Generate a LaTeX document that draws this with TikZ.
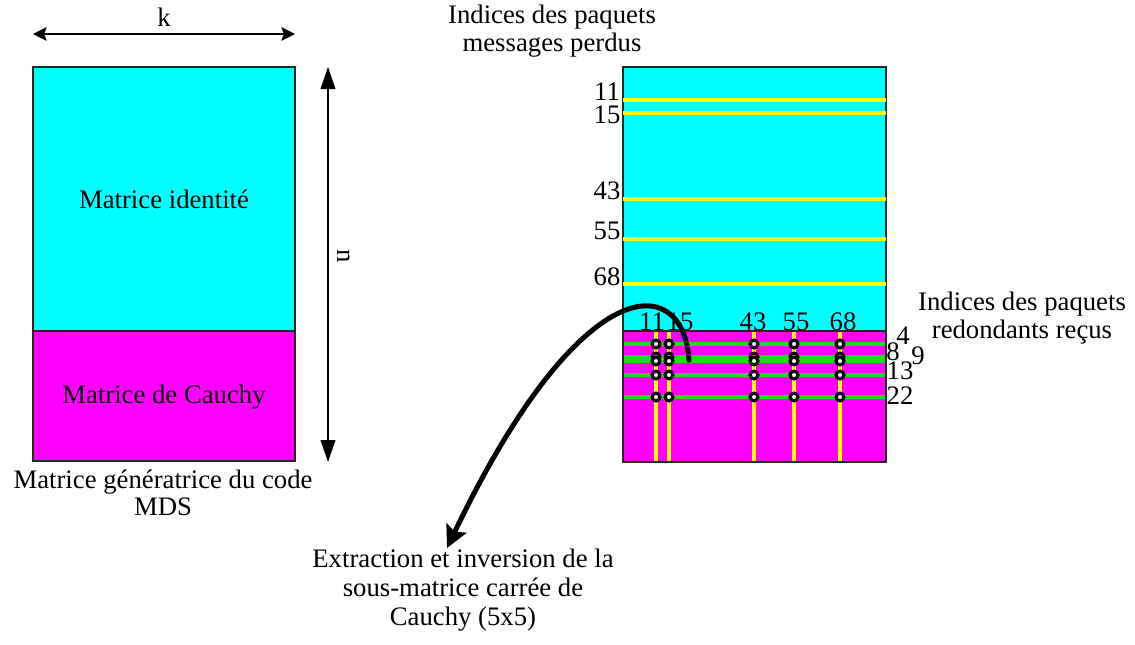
\documentclass[tikz,border=0pt]{standalone}
\usepackage{fontspec}
\setmainfont{Liberation Serif}
\usetikzlibrary{positioning,arrows.meta}
\definecolor{cyanvif}{RGB}{0,255,255}
\definecolor{magvif}{RGB}{255,0,255}
\definecolor{jaune}{RGB}{255,255,0}
\definecolor{vert}{RGB}{30,220,30}

\begin{document}
\begin{tikzpicture}[x=0.025cm,y=-0.025cm,font=\fontsize{19}{19.5}\selectfont,
   texte/.style={align=center,inner sep=0pt},
   num/.style={inner sep=0pt},
   bord/.style={draw=black!85,line width=0.3mm},
   perdu/.style={jaune,line width=0.85mm},
   recu/.style={vert,line width=1.1mm},
   trou/.style={circle,draw,fill=white,line width=0.8mm,minimum size=5.5pt,inner sep=0pt},
   fleche/.style={{Stealth[length=3.4mm,width=3.4mm,inset=0.6mm]}-{Stealth[length=3.4mm,width=3.4mm,inset=0.6mm]},line width=0.3mm},
   flechen/.style={{Triangle[length=5.5mm,width=3.7mm]}-{Triangle[length=5.5mm,width=3.7mm]},line width=0.3mm}]
   \useasboundingbox (0,0) rectangle (1135,644);

   % matrice generatrice
   \draw[bord,fill=cyanvif] (33,67) rectangle (295,331);
   \draw[bord,fill=magvif] (33,331) rectangle (295,461);
   \node (ident)  at (164,199) {Matrice identité};
   \node (cauchy) at (164,397) {Matrice de Cauchy};
   \node[texte] (gen) at (163,493) {Matrice génératrice du code\\MDS};
   \node (k) at (164,17) {k};
   \coordinate (kg) at (33,34);
   \coordinate (kd) at (295,34);
   \draw[fleche] (kg) -- (kd);
   \node[rotate=-90] (n) at (344,256) {n};
   \coordinate (nh) at (328,67);
   \coordinate (nb) at (328,462);
   \draw[flechen] (nh) -- (nb);

   % paquets perdus / recus
   \draw[bord,fill=cyanvif] (623,67) rectangle (886,331);
   \draw[bord,fill=magvif] (623,331) rectangle (886,462);
   \foreach \y in {100,113,199,239,284}
      \draw[perdu] (623,\y) -- (886,\y);
   \foreach \n/\y in {11/92,15/115,43/191,55/231,68/277}
      \node[num] at (607,\y) {\n};
   \foreach \y in {344,357,361,375,397}
      \draw[recu] (623,\y) -- (886,\y);
   \foreach \x in {656,669,754,794,840}
      \draw[perdu] (\x,331) -- (\x,462);
   \foreach \n/\x in {11/652,15/680,43/753,55/796,68/843}
      \node[num] at (\x,322) {\n};
   \foreach \n/\x/\y in {4/903/336,8/893/352,9/918/356,13/900/371,22/900/396}
      \node[num] at (\x,\y) {\n};
   \foreach \x in {656,669,754,794,840}
      \foreach \y in {344,357,361,375,397}
         \node[trou] at (\x,\y) {};
   \draw[bord] (623,331) rectangle (886,462);
   \node[texte] (perdus) at (552,31) {Indices des paquets\\messages perdus};
   \node[texte] (recus) at (1022,318) {Indices des paquets\\redondants reçus};

   % extraction
   \node[texte,font=\fontsize{19}{20.5}\selectfont] (extr) at (463,590)
      {Extraction et inversion de la\\sous-matrice carrée de\\Cauchy (5x5)};
   \coordinate (depart) at (689,360);
   \coordinate (pointe) at (447,548);
   \draw[line width=1.25mm,line cap=round,-{Stealth[length=5.5mm,width=5.5mm,inset=1mm]}]
      (depart) .. controls (683,270) and (580,270) .. (pointe);
\end{tikzpicture}
\end{document}
